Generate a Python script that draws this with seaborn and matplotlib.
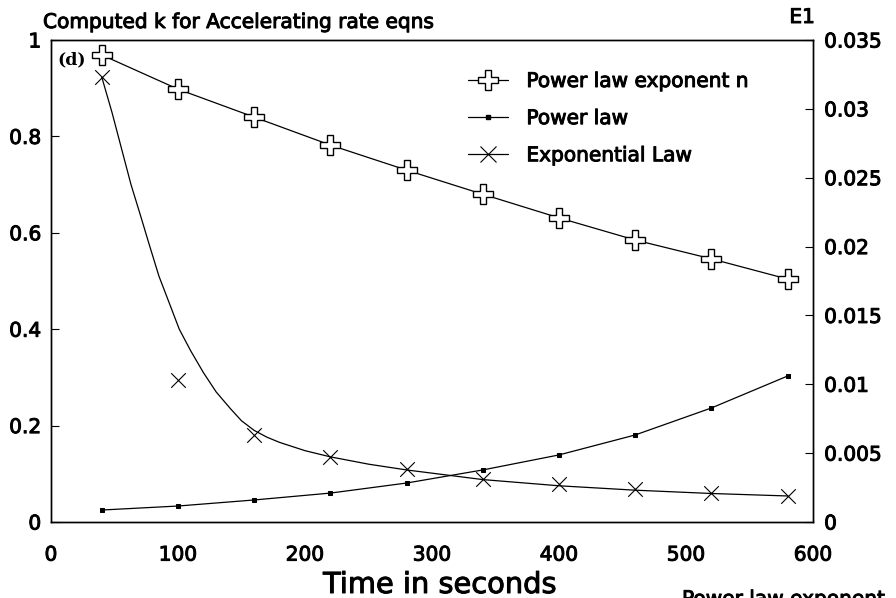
import matplotlib
matplotlib.use("Agg")
import matplotlib.pyplot as plt
import matplotlib.patheffects as pe
from matplotlib.lines import Line2D
import seaborn as sns
import pandas as pd

# ---- data ----
t = [40, 100, 160, 220, 280, 340, 400, 460, 520, 580]
exponent_n = [0.969, 0.898, 0.840, 0.782, 0.730, 0.680, 0.631, 0.585, 0.546, 0.504]
power_law_k = [0.00087, 0.00116, 0.0016, 0.0021, 0.00283, 0.00378, 0.00487, 0.00632, 0.00828, 0.0106]
exp_law_k = [0.0323, 0.01033, 0.0063, 0.00473, 0.00385, 0.00315, 0.00273, 0.00238, 0.0021, 0.00189]
# fitted exponential-law curve
curve_t = [40, 48, 56, 63, 70, 78, 85, 93, 101, 110, 120, 130, 141, 150, 160, 170, 180,
           200, 220, 250, 280, 340, 400, 460, 520, 580]
curve_k = [0.0323, 0.02975, 0.02695, 0.0245, 0.0224, 0.01995, 0.01785, 0.01593, 0.014,
           0.01243, 0.01085, 0.00945, 0.00826, 0.00735, 0.00665, 0.00616, 0.00578,
           0.00518, 0.00473, 0.0042, 0.00378, 0.00308, 0.00263, 0.00231, 0.00207, 0.00189]

x_ticks = [0, 100, 200, 300, 400, 500, 600]
left_ticks = [0, 0.2, 0.4, 0.6, 0.8, 1]
left_labels = ["0", "0.2", "0.4", "0.6", "0.8", "1"]
right_ticks = [0, 0.005, 0.01, 0.015, 0.02, 0.025, 0.03, 0.035]
right_labels = ["0", "0.005", "0.01", "0.015", "0.02", "0.025", "0.03", "0.035"]

sns.set_style("white")
plt.rcParams["font.family"] = ["DejaVu Sans"]
plt.rcParams["text.color"] = "black"
plt.rcParams["axes.labelcolor"] = "black"
plt.rcParams["xtick.color"] = "black"
plt.rcParams["ytick.color"] = "black"

W, H = 896, 598
fig = plt.figure(figsize=(W / 100, H / 100), dpi=100)
ax = fig.add_axes([51 / W, 1 - 522 / H, 762 / W, 482 / H])
ax2 = ax.twinx()

df_n = pd.DataFrame({"t": t, "v": exponent_n})
df_p = pd.DataFrame({"t": t, "v": power_law_k})
df_e = pd.DataFrame({"t": t, "v": exp_law_k})
df_c = pd.DataFrame({"t": curve_t, "v": curve_k})

lw = 0.9
sns.lineplot(data=df_n, x="t", y="v", ax=ax, color="black", lw=lw, marker="P",
             markersize=14, markerfacecolor="white", markeredgecolor="black",
             markeredgewidth=1.0, legend=False)
sns.lineplot(data=df_p, x="t", y="v", ax=ax2, color="black", lw=lw, marker="s",
             markersize=3.5, markerfacecolor="black", markeredgecolor="black", legend=False)
sns.lineplot(data=df_c, x="t", y="v", ax=ax2, color="black", lw=lw, legend=False)
sns.scatterplot(data=df_e, x="t", y="v", ax=ax2, color="black", marker="x", s=110,
                linewidth=0.8, legend=False)

ax.set_xlim(0, 600)
ax.set_ylim(0, 1)
ax2.set_ylim(0, 0.035)
ax.set_xticks(x_ticks)
ax.set_xticklabels([str(v) for v in x_ticks])
ax.set_yticks(left_ticks)
ax.set_yticklabels(left_labels)
ax2.set_yticks(right_ticks)
ax2.set_yticklabels(right_labels)
ax.set_xlabel("")
ax.set_ylabel("")
ax2.set_ylabel("")

fs = 14.5
heavy = [pe.withStroke(linewidth=0.7, foreground="black")]
ax.tick_params(axis="x", direction="in", length=6, width=0.8, pad=17, labelsize=fs, colors="black")
ax.tick_params(axis="y", direction="in", length=6, width=0.8, pad=7, labelsize=fs, colors="black")
ax2.tick_params(axis="y", direction="in", length=6, width=0.8, pad=8, labelsize=fs, colors="black")
for lab in ax.get_xticklabels() + ax.get_yticklabels() + ax2.get_yticklabels():
    lab.set_path_effects(heavy)
for a in (ax, ax2):
    for s in a.spines.values():
        s.set_visible(True)
        s.set_color("black")
        s.set_linewidth(1.0)

fig.text(440 / W, 5 / H, "Time in seconds", ha="center", va="baseline", fontsize=20.8,
         color="black", path_effects=heavy)
fig.text(43 / W, 1 - 28 / H, "Computed k for Accelerating rate eqns", ha="left",
         va="baseline", fontsize=fs, color="black", path_effects=heavy)
fig.text(815 / W, 1 - 23 / H, "E1", ha="right", va="baseline", fontsize=fs, color="black",
         path_effects=heavy)
fig.text(57 / W, 1 - 60 / H, "(d)", ha="left", va="center", fontsize=12.5,
         family="DejaVu Serif", fontweight="bold", color="black")
fig.text(682 / W, -7 / H, "Power law exponent", ha="left", va="baseline", fontsize=fs,
         color="black", path_effects=heavy)

handles = [
    Line2D([], [], color="black", lw=lw, marker="P", markersize=14,
           markerfacecolor="white", markeredgecolor="black", markeredgewidth=1.0),
    Line2D([], [], color="black", lw=lw, marker="s", markersize=3.5,
           markerfacecolor="black"),
    Line2D([], [], color="black", lw=lw, marker="x", markersize=11, markeredgewidth=0.8),
]
labels = ["Power law exponent n", "Power law", "Exponential Law"]
leg = ax2.legend(handles, labels, loc="upper left", bbox_to_anchor=(468 / W, 1 - 72 / H),
                 bbox_transform=fig.transFigure, frameon=False, fontsize=fs,
                 handlelength=2.0, handletextpad=0.9, labelspacing=0.9, borderpad=0,
                 borderaxespad=0)
for txt in leg.get_texts():
    txt.set_color("black")
    txt.set_path_effects(heavy)

fig.savefig("out.png", dpi=100)
